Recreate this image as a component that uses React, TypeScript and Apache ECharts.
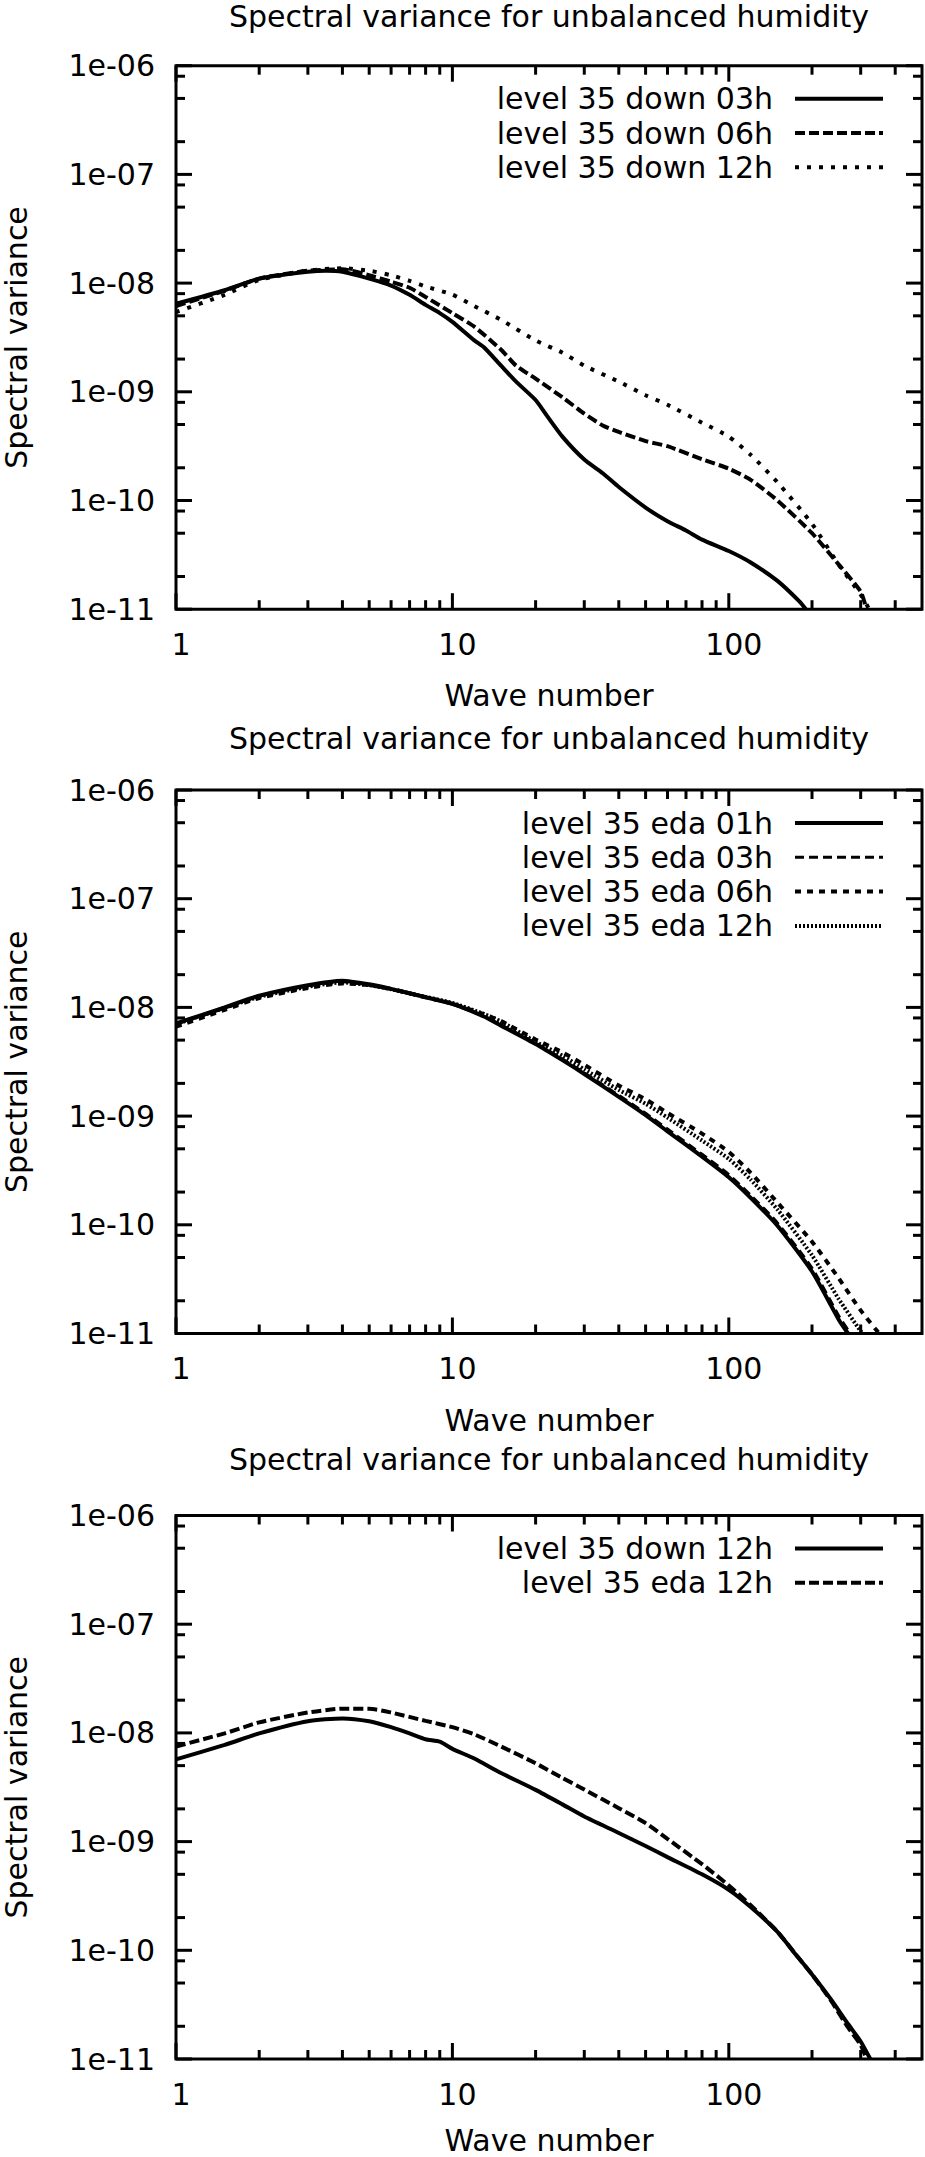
import React, { useEffect, useRef } from "react";
import * as echarts from "echarts";

// ---------- axes ----------
const X_MIN = 1;
const X_MAX = 500;
const Y_MIN = 1e-11;
const Y_MAX = 1e-6;
const xMajorTicks = [1, 10, 100];
const xMinorTicks = [2, 3, 4, 5, 6, 7, 8, 9, 20, 30, 40, 50, 60, 70, 80, 90, 200, 300, 400];
const yMajorTicks = [1e-11, 1e-10, 1e-9, 1e-8, 1e-7, 1e-6];
const yMinorTicks = [
  2e-11, 5e-11, 8e-11, 2e-10, 5e-10, 8e-10, 2e-9, 5e-9, 8e-9, 2e-8, 5e-8, 8e-8, 2e-7, 5e-7, 8e-7,
];

const titleText = "Spectral variance for unbalanced humidity";
const xName = "Wave number";
const yName = "Spectral variance";

// ---------- panel 1: level 35 down ----------
const p1Names = ["level 35 down 03h", "level 35 down 06h", "level 35 down 12h"];
const p1Down03X = [1, 1.5, 2, 3, 3.5, 4, 5, 6, 7, 8, 9, 10, 12, 13, 15, 17, 20, 22, 25, 30, 35, 40, 50, 60, 70, 80, 100, 120, 150, 180, 190];
const p1Down03Y = [6.45e-9, 8.6e-9, 1.1e-8, 1.27e-8, 1.3e-8, 1.27e-8, 1.1e-8, 9.5e-9, 7.8e-9, 6.3e-9, 5.3e-9, 4.4e-9, 2.97e-9, 2.57e-9, 1.74e-9, 1.24e-9, 8.4e-10, 6.0e-10, 3.87e-10, 2.38e-10, 1.78e-10, 1.33e-10, 8.6e-11, 6.44e-11, 5.3e-11, 4.37e-11, 3.43e-11, 2.69e-11, 1.82e-11, 1.18e-11, 1.0e-11];
const p1Down06X = [1, 1.5, 2, 3, 4, 5, 6, 7, 8, 10, 12, 15, 17, 20, 25, 30, 35, 40, 50, 60, 80, 100, 120, 150, 200, 250, 300, 315];
const p1Down06Y = [6.15e-9, 8.5e-9, 1.1e-8, 1.3e-8, 1.34e-8, 1.18e-8, 1.03e-8, 9.06e-9, 7.46e-9, 5.3e-9, 3.97e-9, 2.44e-9, 1.74e-9, 1.32e-9, 8.9e-10, 6.3e-10, 4.9e-10, 4.27e-10, 3.52e-10, 3.16e-10, 2.4e-10, 1.96e-10, 1.55e-10, 1.0e-10, 5.0e-11, 2.57e-11, 1.45e-11, 1.0e-11];
const p1Down12X = [1, 1.5, 2, 3, 4, 5, 6, 7, 8, 10, 12, 15, 20, 25, 30, 40, 50, 60, 80, 100, 120, 150, 200, 250, 300, 322];
const p1Down12Y = [5.42e-9, 7.8e-9, 1.07e-8, 1.3e-8, 1.37e-8, 1.3e-8, 1.18e-8, 1.05e-8, 9.3e-9, 7.83e-9, 6.15e-9, 4.59e-9, 2.97e-9, 2.29e-9, 1.74e-9, 1.24e-9, 9.3e-10, 7.6e-10, 5.2e-10, 3.87e-10, 2.63e-10, 1.47e-10, 6.1e-11, 2.56e-11, 1.36e-11, 1.0e-11];

// ---------- panel 2: level 35 eda ----------
const p2Names = ["level 35 eda 01h", "level 35 eda 03h", "level 35 eda 06h", "level 35 eda 12h"];
const p2Eda01X = [1, 1.5, 2, 3, 4, 5, 6, 8, 10, 13, 15, 20, 25, 30, 40, 50, 60, 80, 100, 120, 150, 200, 250, 270];
const p2Eda01Y = [7.13e-9, 1.0e-8, 1.28e-8, 1.6e-8, 1.76e-8, 1.63e-8, 1.48e-8, 1.24e-8, 1.08e-8, 8.25e-9, 6.79e-9, 4.6e-9, 3.27e-9, 2.44e-9, 1.5e-9, 1.02e-9, 7.24e-10, 4.24e-10, 2.74e-10, 1.77e-10, 9.8e-11, 3.72e-11, 1.34e-11, 1.0e-11];
const p2Eda03X = [1, 1.5, 2, 3, 4, 5, 6, 8, 10, 13, 15, 20, 25, 30, 40, 50, 60, 80, 100, 120, 150, 200, 250, 275];
const p2Eda03Y = [7.0e-9, 9.8e-9, 1.27e-8, 1.58e-8, 1.72e-8, 1.6e-8, 1.46e-8, 1.23e-8, 1.07e-8, 8.3e-9, 6.9e-9, 4.7e-9, 3.35e-9, 2.5e-9, 1.55e-9, 1.06e-9, 7.6e-10, 4.45e-10, 2.9e-10, 1.87e-10, 1.04e-10, 4.0e-11, 1.45e-11, 1.0e-11];
const p2Eda06X = [1, 1.5, 2, 3, 4, 5, 6, 8, 10, 13, 15, 20, 25, 30, 40, 50, 60, 80, 100, 120, 150, 200, 250, 300, 350];
const p2Eda06Y = [6.65e-9, 9.5e-9, 1.22e-8, 1.51e-8, 1.66e-8, 1.6e-8, 1.48e-8, 1.24e-8, 1.08e-8, 8.65e-9, 7.48e-9, 5.07e-9, 3.86e-9, 2.97e-9, 1.91e-9, 1.43e-9, 1.07e-9, 6.9e-10, 4.68e-10, 3.01e-10, 1.6e-10, 7.0e-11, 3.21e-11, 1.63e-11, 1.0e-11];
const p2Eda12X = [1, 1.5, 2, 3, 4, 5, 6, 8, 10, 13, 15, 20, 25, 30, 40, 50, 60, 80, 100, 120, 150, 200, 250, 300, 305];
const p2Eda12Y = [7.0e-9, 9.9e-9, 1.25e-8, 1.55e-8, 1.7e-8, 1.6e-8, 1.47e-8, 1.25e-8, 1.1e-8, 8.7e-9, 7.4e-9, 4.83e-9, 3.6e-9, 2.69e-9, 1.74e-9, 1.3e-9, 9.7e-10, 5.96e-10, 4.04e-10, 2.6e-10, 1.38e-10, 5.24e-11, 2.07e-11, 1.05e-11, 1.0e-11];

// ---------- panel 3: down vs eda 12h ----------
const p3Names = ["level 35 down 12h", "level 35 eda 12h"];
const p3Down12X = [1, 1.5, 2, 3, 4, 5, 6, 7, 8, 9, 10, 12, 15, 20, 25, 30, 40, 50, 60, 80, 100, 120, 150, 175, 200, 235, 270, 300, 325];
const p3Down12Y = [5.7e-9, 7.75e-9, 9.9e-9, 1.28e-8, 1.36e-8, 1.28e-8, 1.13e-8, 9.9e-9, 8.75e-9, 8.3e-9, 7.13e-9, 5.81e-9, 4.27e-9, 2.99e-9, 2.2e-9, 1.7e-9, 1.2e-9, 9.1e-10, 7.2e-10, 5.0e-10, 3.6e-10, 2.5e-10, 1.48e-10, 9.1e-11, 6.0e-11, 3.5e-11, 2.1e-11, 1.45e-11, 1.0e-11];
const p3Eda12X = [1, 1.5, 2, 3, 4, 5, 6, 8, 10, 12, 15, 20, 25, 30, 40, 50, 60, 80, 100, 120, 150, 175, 200, 235, 270, 300, 315];
const p3Eda12Y = [7.5e-9, 9.9e-9, 1.25e-8, 1.54e-8, 1.67e-8, 1.67e-8, 1.54e-8, 1.29e-8, 1.13e-8, 9.7e-9, 7.5e-9, 5.25e-9, 3.86e-9, 3.01e-9, 2.03e-9, 1.48e-9, 1.06e-9, 6.2e-10, 3.95e-10, 2.6e-10, 1.48e-10, 9.1e-11, 6.0e-11, 3.4e-11, 1.95e-11, 1.35e-11, 1.0e-11];

// ---------- layout / styles ----------
const FONT = "DejaVu Sans";
const FS = 30;
const PLOT_LEFT = 176;
const PLOT_WIDTH = 746;
const PLOT_HEIGHT = 543.5;
const PANEL_TOPS = [65.7, 790, 1515.5];
const TITLE_Y = [16, 738, 1459];
const XNAME_Y = [695, 1420, 2140];

type Curve = { name: string; x: number[]; y: number[]; width: number; dash: number[] | "solid" };

const panels: Curve[][] = [
  [
    { name: p1Names[0], x: p1Down03X, y: p1Down03Y, width: 4, dash: "solid" },
    { name: p1Names[1], x: p1Down06X, y: p1Down06Y, width: 4, dash: [10, 4] },
    { name: p1Names[2], x: p1Down12X, y: p1Down12Y, width: 4, dash: [4, 8] },
  ],
  [
    { name: p2Names[0], x: p2Eda01X, y: p2Eda01Y, width: 4, dash: "solid" },
    { name: p2Names[1], x: p2Eda03X, y: p2Eda03Y, width: 3, dash: [9, 5] },
    { name: p2Names[2], x: p2Eda06X, y: p2Eda06Y, width: 4, dash: [6, 6] },
    { name: p2Names[3], x: p2Eda12X, y: p2Eda12Y, width: 4, dash: [2, 2] },
  ],
  [
    { name: p3Names[0], x: p3Down12X, y: p3Down12Y, width: 4, dash: "solid" },
    { name: p3Names[1], x: p3Eda12X, y: p3Eda12Y, width: 4, dash: [10, 4] },
  ],
];

const isPow10 = (v: number) => {
  const e = Math.log10(v);
  return Math.abs(e - Math.round(e)) < 1e-6;
};
const fmtY = (v: number) => {
  if (!isPow10(v)) return "";
  const r = Math.round(Math.log10(v));
  return "1e-" + String(-r).padStart(2, "0");
};
const fmtX = (v: number) => (isPow10(v) ? String(Math.round(v)) : "");

function tickSeries(i: number, values: number[], axis: "x" | "y", len: number) {
  return {
    type: "custom",
    xAxisIndex: i,
    yAxisIndex: i,
    silent: true,
    z: 5,
    data: values.map((v) => (axis === "x" ? [v, Y_MIN] : [X_MIN, v])),
    renderItem: (_params: any, api: any) => {
      const st = { stroke: "#000", lineWidth: 3 };
      if (axis === "x") {
        const v = api.value(0);
        const b = api.coord([v, Y_MIN]);
        const t = api.coord([v, Y_MAX]);
        return {
          type: "group",
          children: [
            { type: "line", shape: { x1: b[0], y1: b[1], x2: b[0], y2: b[1] - len }, style: st },
            { type: "line", shape: { x1: t[0], y1: t[1], x2: t[0], y2: t[1] + len }, style: st },
          ],
        };
      }
      const v = api.value(1);
      const l = api.coord([X_MIN, v]);
      const r = api.coord([X_MAX, v]);
      return {
        type: "group",
        children: [
          { type: "line", shape: { x1: l[0], y1: l[1], x2: l[0] + len, y2: l[1] }, style: st },
          { type: "line", shape: { x1: r[0], y1: r[1], x2: r[0] - len, y2: r[1] }, style: st },
        ],
      };
    },
  };
}

function buildOption() {
  const grid: any[] = [];
  const xAxis: any[] = [];
  const yAxis: any[] = [];
  const series: any[] = [];
  const graphics: any[] = [];

  panels.forEach((curves, i) => {
    const top = PANEL_TOPS[i];
    grid.push({
      left: PLOT_LEFT,
      top,
      width: PLOT_WIDTH,
      height: PLOT_HEIGHT,
      show: true,
      borderColor: "#000",
      borderWidth: 3,
      backgroundColor: "transparent",
      containLabel: false,
      outerBoundsMode: "none",
    });
    xAxis.push({
      type: "log",
      logBase: 10,
      gridIndex: i,
      min: X_MIN,
      max: X_MAX,
      axisLine: { show: false },
      axisTick: { show: false },
      splitLine: { show: false },
      axisLabel: {
        formatter: fmtX,
        fontFamily: FONT,
        fontSize: FS,
        color: "#000",
        margin: 20,
        padding: [0, 0, 0, 10],
      },
    });
    yAxis.push({
      type: "log",
      logBase: 10,
      gridIndex: i,
      min: Y_MIN,
      max: Y_MAX,
      axisLine: { show: false },
      axisTick: { show: false },
      splitLine: { show: false },
      axisLabel: {
        formatter: fmtY,
        fontFamily: FONT,
        fontSize: FS,
        color: "#000",
        margin: 21,
      },
    });
    series.push(tickSeries(i, xMajorTicks, "x", 16));
    series.push(tickSeries(i, xMinorTicks, "x", 9));
    series.push(tickSeries(i, yMajorTicks, "y", 16));
    series.push(tickSeries(i, yMinorTicks, "y", 9));

    curves.forEach((c) => {
      series.push({
        type: "line",
        name: c.name,
        xAxisIndex: i,
        yAxisIndex: i,
        data: c.x.map((xv, k) => [xv, c.y[k]]),
        showSymbol: false,
        symbol: "none",
        smooth: 0.2,
        clip: true,
        lineStyle: { color: "#000", width: c.width, type: c.dash },
        z: 4,
      });
    });

    // title
    graphics.push({
      type: "text",
      x: PLOT_LEFT + PLOT_WIDTH / 2,
      y: TITLE_Y[i],
      style: { text: titleText, font: `${FS}px '${FONT}'`, fill: "#000", align: "center", verticalAlign: "middle" },
    });
    // x name
    graphics.push({
      type: "text",
      x: PLOT_LEFT + PLOT_WIDTH / 2,
      y: XNAME_Y[i],
      style: { text: xName, font: `${FS}px '${FONT}'`, fill: "#000", align: "center", verticalAlign: "middle" },
    });
    // y name
    graphics.push({
      type: "text",
      x: 16,
      y: top + PLOT_HEIGHT / 2,
      rotation: Math.PI / 2,
      style: { text: yName, font: `${FS}px '${FONT}'`, fill: "#000", align: "center", verticalAlign: "middle" },
    });
    // legend
    curves.forEach((c, k) => {
      const ly = top + 33 + 34.3 * k;
      graphics.push({
        type: "text",
        x: 773,
        y: ly,
        style: { text: c.name, font: `${FS}px '${FONT}'`, fill: "#000", align: "right", verticalAlign: "middle" },
      });
      graphics.push({
        type: "line",
        shape: { x1: 795, y1: ly, x2: 883, y2: ly },
        style: {
          stroke: "#000",
          lineWidth: c.width,
          lineDash: c.dash === "solid" ? null : c.dash,
        },
      });
    });
  });

  return {
    animation: false,
    backgroundColor: "#fff",
    grid,
    xAxis,
    yAxis,
    series,
    graphic: { elements: graphics },
  };
}

export default function App() {
  const ref = useRef<HTMLDivElement>(null);
  useEffect(() => {
    if (!ref.current) return;
    const chart = echarts.init(ref.current, null, { renderer: "svg" });
    chart.setOption(buildOption() as any);
    return () => chart.dispose();
  }, []);
  return (
    <div
      ref={ref}
      style={{ position: "absolute", left: 0, top: 0, width: 925, height: 2157, background: "#fff" }}
    />
  );
}
